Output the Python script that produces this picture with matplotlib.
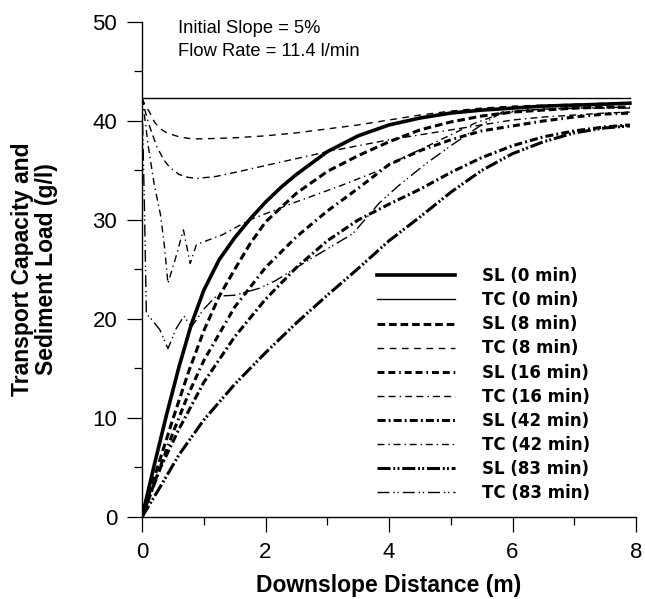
import matplotlib
matplotlib.use("Agg")
import matplotlib.pyplot as plt

plt.rcParams["font.family"] = ["Liberation Sans", "DejaVu Sans"]
plt.rcParams["lines.scale_dashes"] = False

# ------------------------------------------------------------
# Sediment load (SL) and transport capacity (TC) along the slope
# ------------------------------------------------------------
x_sl0 = [0, 0.2, 0.4, 0.6, 0.8, 1.0, 1.25, 1.5, 1.75, 2.0, 2.25, 2.5, 3.0, 3.5,
         4.0, 4.5, 5.0, 5.5, 6.0, 6.5, 7.0, 7.5, 7.9]
y_sl0 = [0, 5.3, 10.4, 15.2, 19.5, 22.9, 26.0, 28.2, 30.1, 31.8, 33.3, 34.6, 36.9,
         38.5, 39.6, 40.3, 40.8, 41.1, 41.3, 41.5, 41.6, 41.7, 41.8]

x_tc0 = [0, 7.9]
y_tc0 = [42.3, 42.3]

x_sl8 = [0, 0.25, 0.5, 0.75, 1.0, 1.25, 1.5, 1.75, 2.0, 2.5, 3.0, 3.5, 4.0, 4.5,
         5.0, 5.5, 6.0, 6.5, 7.0, 7.5, 7.9]
y_sl8 = [0, 5.0, 9.9, 14.6, 18.8, 22.3, 25.0, 27.6, 29.8, 32.7, 34.9, 36.5, 37.9,
         39.1, 39.9, 40.5, 40.9, 41.1, 41.3, 41.4, 41.4]

x_tc8 = [0, 0.05, 0.13, 0.2, 0.3, 0.4, 0.6, 0.8, 1.0, 1.5, 2.0, 2.5, 3.0, 3.5,
         4.0, 4.5, 5.0, 5.5, 6.0, 6.5, 7.0, 7.5, 7.9]
y_tc8 = [42.3, 41.6, 40.8, 39.9, 39.2, 38.8, 38.4, 38.2, 38.2, 38.3, 38.5, 38.8,
         39.2, 39.6, 40.1, 40.6, 41.0, 41.3, 41.5, 41.6, 41.7, 41.8, 41.8]

x_sl16 = [0, 0.25, 0.5, 0.75, 1.0, 1.5, 2.0, 2.5, 3.0, 3.5, 4.0, 4.5, 5.0, 5.5,
          6.0, 6.5, 7.0, 7.5, 7.9]
y_sl16 = [0, 4.3, 8.5, 12.4, 15.8, 21.2, 25.2, 28.3, 30.9, 33.2, 35.6, 37.0,
          38.1, 39.0, 39.5, 40.0, 40.4, 40.7, 40.8]

x_tc16 = [0, 0.05, 0.12, 0.24, 0.35, 0.45, 0.6, 0.75, 0.9, 1.2, 1.5, 2.0, 2.5,
          3.0, 3.5, 4.0, 4.5, 5.0, 5.5, 6.0, 6.5, 7.0, 7.5, 7.9]
y_tc16 = [42.3, 41.0, 39.5, 37.4, 36.1, 35.3, 34.6, 34.3, 34.2, 34.4, 34.8, 35.5,
          36.2, 36.9, 37.5, 38.1, 38.6, 39.1, 39.6, 40.1, 40.4, 40.6, 40.8, 40.9]

x_sl42 = [0, 0.3, 0.6, 1.0, 1.5, 2.0, 2.5, 3.0, 3.5, 4.0, 4.5, 5.0, 5.5, 6.0,
          6.5, 7.0, 7.5, 7.9]
y_sl42 = [0, 5.0, 8.9, 13.6, 18.2, 22.0, 25.2, 27.9, 30.0, 31.6, 33.1, 34.8,
          36.3, 37.5, 38.4, 39.0, 39.4, 39.6]

x_tc42 = [0, 0.05, 0.1, 0.2, 0.3, 0.36, 0.42, 0.55, 0.67, 0.78, 0.88, 1.0, 1.3,
          1.74, 2.44, 3.19, 3.84, 4.2, 4.6, 5.0, 5.4, 5.8, 6.2, 7.0, 7.9]
y_tc42 = [42.3, 40.0, 37.5, 33.5, 30.5, 27.5, 23.6, 26.3, 29.0, 25.6, 27.5, 27.8,
          28.5, 30.0, 31.7, 33.4, 35.0, 36.2, 37.4, 38.6, 39.8, 40.7, 41.1, 41.3,
          41.4]

x_sl83 = [0, 0.3, 0.6, 1.0, 1.5, 2.0, 2.5, 3.0, 3.5, 4.0, 4.5, 5.0, 5.5, 6.0,
          6.5, 7.0, 7.5, 7.9]
y_sl83 = [0, 3.1, 6.3, 9.8, 13.4, 16.6, 19.6, 22.4, 25.1, 27.9, 30.3, 32.8,
          35.0, 36.7, 37.9, 38.8, 39.3, 39.5]

x_tc83 = [0, 0.04, 0.07, 0.15, 0.29, 0.42, 0.55, 0.68, 0.8, 1.0, 1.2, 1.5, 1.9,
          2.17, 2.71, 3.41, 3.84, 4.16, 4.6, 5.0, 5.4, 5.83, 6.5, 7.2, 7.9]
y_tc83 = [42.3, 31.0, 20.5, 20.0, 18.9, 17.0, 19.0, 20.3, 19.2, 21.0, 22.3, 22.4,
          23.1, 23.9, 26.0, 28.6, 31.7, 33.5, 35.7, 37.5, 39.2, 40.9, 41.2, 41.3,
          41.3]

thick = 2.2
thin = 1.0

fig = plt.figure(figsize=(6.45, 5.99), dpi=100)
ax = fig.add_axes([0.2202, 0.1369, 0.7659, 0.8264])

ax.plot(x_sl0, y_sl0, color="black", lw=2.6, label="SL (0 min)")
ax.plot(x_tc0, y_tc0, color="black", lw=thin, label="TC (0 min)")
ax.plot(x_sl8, y_sl8, color="black", lw=thick, dashes=(5.5, 2.8),
        label="SL (8 min)")
ax.plot(x_tc8, y_tc8, color="black", lw=thin, dashes=(4.8, 4.0),
        label="TC (8 min)")
ax.plot(x_sl16, y_sl16, color="black", lw=thick,
        dashes=(5, 2.8, 5, 2.8, 1.2, 2.8), label="SL (16 min)")
ax.plot(x_tc16, y_tc16, color="black", lw=thin,
        dashes=(5, 3, 5, 3, 1, 3), label="TC (16 min)")
ax.plot(x_sl42, y_sl42, color="black", lw=thick, dashes=(5.8, 2.2, 1.4, 2.2),
        label="SL (42 min)")
ax.plot(x_tc42, y_tc42, color="black", lw=thin, dashes=(5, 2.8, 1, 2.8),
        label="TC (42 min)")
ax.plot(x_sl83, y_sl83, color="black", lw=thick,
        dashes=(9.4, 2, 1.4, 1.6, 1.4, 2), label="SL (83 min)")
ax.plot(x_tc83, y_tc83, color="black", lw=thin,
        dashes=(8.6, 2.8, 1, 2, 1, 2.8), label="TC (83 min)")

ax.set_xlim(0, 8)
ax.set_ylim(0, 50)
ax.set_xticks([0, 2, 4, 6, 8])
ax.set_xticks([1, 3, 5, 7], minor=True)
ax.set_yticks([0, 10, 20, 30, 40, 50])
ax.set_yticks([5, 15, 25, 35, 45], minor=True)

ax.spines["top"].set_visible(False)
ax.spines["right"].set_visible(False)
ax.spines["left"].set_linewidth(1.0)
ax.spines["bottom"].set_linewidth(1.0)

ax.tick_params(which="major", direction="out", length=10.8, width=0.9,
               labelsize=16)
ax.tick_params(which="minor", direction="out", length=5.8, width=0.9)
ax.tick_params(axis="x", which="major", pad=7)
ax.tick_params(axis="y", which="major", pad=7)

ax.set_xlabel("Downslope Distance (m)", fontsize=16.5, fontweight="bold")
ax.xaxis.set_label_coords(0.5, -0.115)
ax.set_ylabel("Transport Capacity and\nSediment Load (g/l)", fontsize=16.5,
              fontweight="bold", linespacing=1.05)
ax.yaxis.set_label_coords(-0.17, 0.5)

fig.text(178 / 645, 0.9444, "Initial Slope = 5%", fontsize=13.2,
         va="baseline", ha="left")
fig.text(178 / 645, 0.907, "Flow Rate = 11.4 l/min", fontsize=13.2,
         va="baseline", ha="left")

ax.legend(loc="upper left", bbox_to_anchor=(377 / 645, 0.554),
          bbox_transform=fig.transFigure, frameon=False, borderpad=0,
          borderaxespad=0, handlelength=4.68, handletextpad=1.62,
          labelspacing=0.366,
          prop={"family": "DejaVu Sans", "weight": "bold", "size": 12})

fig.savefig("out.png", dpi=100)
